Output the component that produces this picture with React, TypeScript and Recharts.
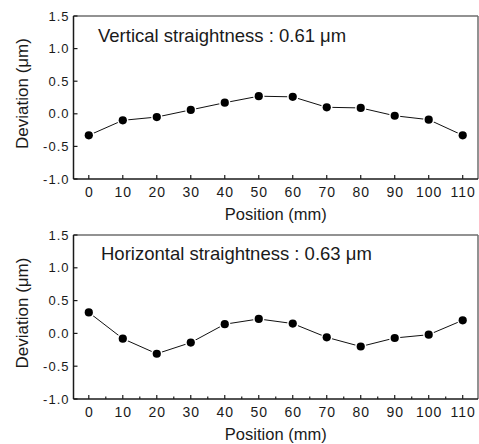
import React from 'react';
import { LineChart, Line, XAxis, YAxis, ReferenceLine, Label } from 'recharts';

const positions = [0, 10, 20, 30, 40, 50, 60, 70, 80, 90, 100, 110];
const verticalDeviation = [-0.33, -0.1, -0.05, 0.06, 0.17, 0.27, 0.26, 0.1, 0.09, -0.03, -0.09, -0.33];
const horizontalDeviation = [0.32, -0.08, -0.31, -0.14, 0.14, 0.22, 0.15, -0.06, -0.2, -0.07, -0.02, 0.2];
const majorXTicks = [0, 10, 20, 30, 40, 50, 60, 70, 80, 90, 100, 110];
const allXTicks = [0, 5, 10, 15, 20, 25, 30, 35, 40, 45, 50, 55, 60, 65, 70, 75, 80, 85, 90, 95, 100, 105, 110];
const yTicks = [-1.0, -0.5, 0.0, 0.5, 1.0, 1.5];
const xDomain: [number, number] = [-4.5, 114.5];
const yDomain: [number, number] = [-1.0, 1.5];
const annotations = ['Vertical straightness : 0.61 \u03bcm', 'Horizontal straightness : 0.63 \u03bcm'];
const xTitle = 'Position (mm)';
const yTitle = 'Deviation (\u03bcm)';

const FONT = '"Liberation Sans", Arial, sans-serif';
const INK = '#1a1a1a';

const XTick = (props: any) => {
  const { x, y, payload } = props;
  const v = payload.value;
  const major = v % 10 === 0;
  return (
    <g>
      <line x1={x} x2={x} y1={y} y2={y - (major ? 4 : 2.5)} stroke={INK} strokeWidth={1.2} />
      {major && (
        <text x={x + 0.5} y={y + 18} textAnchor="middle" fontSize={14} letterSpacing={1} fill={INK} fontFamily={FONT}>
          {v}
        </text>
      )}
    </g>
  );
};

const YTick = (props: any) => {
  const { x, y, payload } = props;
  const v = payload.value as number;
  return (
    <g>
      <line x1={x} x2={x + 4} y1={y} y2={y} stroke={INK} strokeWidth={1.2} />
      <text x={x - 4} y={y + 4.5} textAnchor="end" fontSize={13} letterSpacing={1} fill={INK} fontFamily={FONT}>
        {v.toFixed(1)}
      </text>
    </g>
  );
};

const GapDot = (props: any) => {
  const { cx, cy, index } = props;
  if (cx == null || cy == null) return <g key={index} />;
  return (
    <g key={index}>
      <circle cx={cx} cy={cy} r={5.6} fill="#ffffff" />
      <circle cx={cx} cy={cy} r={4.1} fill="#000000" />
    </g>
  );
};

type PanelProps = {
  values: number[];
  note: string;
  height: number;
  top: number;
  xAxisHeight: number;
  noteDx: number;
  noteDy: number;
  xTitleDy: number;
  xTicks: number[];
};

const Panel = ({ values, note, height, top, xAxisHeight, noteDx, noteDy, xTitleDy, xTicks }: PanelProps) => {
  const data = positions.map((p, i) => ({ pos: p, dev: values[i] }));
  return (
    <LineChart width={479} height={height} data={data} margin={{ top, right: 1, bottom: 0, left: 0 }}>
      <XAxis
        dataKey="pos"
        type="number"
        domain={xDomain}
        ticks={xTicks}
        interval={0}
        allowDataOverflow
        height={xAxisHeight}
        tickSize={0}
        tickMargin={0}
        tickLine={false}
        axisLine={{ stroke: INK, strokeWidth: 1.5 }}
        tick={<XTick />}
      >
        <Label
          content={(p: any) => {
            const vb = p.viewBox;
            return (
              <text x={vb.x + vb.width / 2} y={vb.y + xTitleDy} textAnchor="middle" fontSize={16.5} fill={INK} fontFamily={FONT}>
                {xTitle}
              </text>
            );
          }}
        />
      </XAxis>
      <YAxis
        type="number"
        domain={yDomain}
        ticks={yTicks}
        interval={0}
        allowDataOverflow
        width={73.5}
        tickSize={0}
        tickMargin={0}
        tickLine={false}
        axisLine={{ stroke: INK, strokeWidth: 1.5 }}
        tick={<YTick />}
      >
        <Label
          content={(p: any) => {
            const vb = p.viewBox;
            const cx = 22;
            const cy = vb.y + vb.height / 2 - 4;
            return (
              <text x={cx} y={cy} transform={`rotate(-90 ${cx} ${cy})`} textAnchor="middle" dy={6} fontSize={17} fill={INK} fontFamily={FONT}>
                {yTitle}
              </text>
            );
          }}
        />
      </YAxis>
      <ReferenceLine
        y={yDomain[1]}
        stroke="#6e6e6e"
        strokeWidth={1.5}
        label={(p: any) => {
          const vb = p.viewBox;
          return (
            <text x={vb.x + noteDx} y={vb.y + noteDy} fontSize={18.5} fill={INK} fontFamily={FONT}>
              {note}
            </text>
          );
        }}
      />
      <ReferenceLine x={xDomain[1]} stroke="#6e6e6e" strokeWidth={1.5} />
      <Line
        type="linear"
        dataKey="dev"
        stroke="#111111"
        strokeWidth={1}
        dot={<GapDot />}
        activeDot={false}
        isAnimationActive={false}
      />
    </LineChart>
  );
};

export default function App() {
  return (
    <div style={{ position: 'absolute', left: 0, top: 0, width: 479, height: 444, background: '#ffffff' }}>
      <div style={{ position: 'absolute', left: 0, top: 0 }}>
        <Panel values={verticalDeviation} note={annotations[0]} height={230} top={16} xAxisHeight={51} noteDx={24.5} noteDy={25.5} xTitleDy={40.5} xTicks={majorXTicks} />
      </div>
      <div style={{ position: 'absolute', left: 0, top: 220 }}>
        <Panel values={horizontalDeviation} note={annotations[1]} height={224} top={15} xAxisHeight={45} noteDx={27.5} noteDy={24.5} xTitleDy={40.5} xTicks={allXTicks} />
      </div>
    </div>
  );
}
